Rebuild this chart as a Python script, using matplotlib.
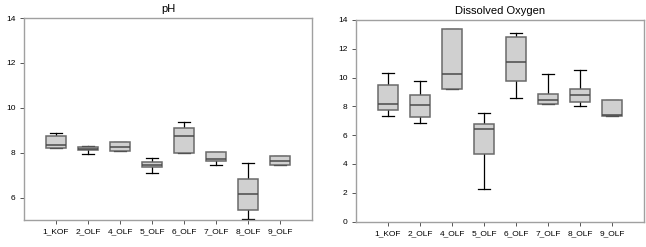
import matplotlib
matplotlib.use('Agg')
import matplotlib.pyplot as plt

plt.rcParams['font.family'] = ['Liberation Sans', 'DejaVu Sans']

# site names on the x axis
sites = ['1_KOF', '2_OLF', '4_OLF', '5_OLF', '6_OLF', '7_OLF', '8_OLF', '9_OLF']

# pH box stats
ph_lo  = [8.19, 7.92, 8.07, 7.10, 7.97, 7.46, 5.05, 7.46]
ph_q1  = [8.19, 8.10, 8.07, 7.37, 7.99, 7.65, 5.46, 7.46]
ph_med = [8.34, 8.16, 8.25, 7.46, 8.74, 7.74, 6.16, 7.65]
ph_q3  = [8.75, 8.26, 8.48, 7.58, 9.08, 8.05, 6.82, 7.87]
ph_hi  = [8.86, 8.29, 8.48, 7.75, 9.35, 8.05, 7.55, 7.87]

# dissolved oxygen box stats
do_lo  = [7.32, 6.81, 9.21, 2.25, 8.61, 8.15, 8.01, 7.36]
do_q1  = [7.73, 7.25, 9.21, 4.70, 9.75, 8.15, 8.29, 7.36]
do_med = [8.17, 8.06, 10.23, 6.46, 11.11, 8.45, 8.77, 7.43]
do_q3  = [9.51, 8.77, 13.40, 6.76, 12.80, 8.89, 9.19, 8.45]
do_hi  = [10.30, 9.75, 13.40, 7.57, 13.12, 10.23, 10.53, 8.45]


def make_stats(lo, q1, med, q3, hi):
    return [dict(whislo=a, q1=b, med=c, q3=d, whishi=e, fliers=[], label=s)
            for a, b, c, d, e, s in zip(lo, q1, med, q3, hi, sites)]


def draw(ax, stats, title, ylim, yticks):
    ax.bxp(stats, positions=range(1, len(sites) + 1), widths=0.64,
           patch_artist=True, showfliers=False,
           boxprops=dict(facecolor='#d0d0d0', edgecolor='#6a6a6a', linewidth=1.1, zorder=3),
           medianprops=dict(color='#4a4a4a', linewidth=1.1, zorder=4),
           whiskerprops=dict(color='black', linewidth=0.9, zorder=2),
           capprops=dict(color='black', linewidth=0.9, zorder=2),
           capwidths=0.36)
    ax.set_xlim(0, 9)
    ax.set_ylim(*ylim)
    ax.set_yticks(yticks)
    ax.set_title(title, fontsize=8, pad=4)
    for sp in ax.spines.values():
        sp.set_color('#a0a0a0')
        sp.set_linewidth(1.0)
    ax.tick_params(labelsize=6, length=3, width=0.7, color='#555555', pad=3)


fig = plt.figure(figsize=(6.46, 2.47), dpi=100)
ax1 = fig.add_axes([24 / 646, 1 - 220 / 247, 288 / 646, 202 / 247])
ax2 = fig.add_axes([356 / 646, 1 - 221.5 / 247, 288 / 646, 201.5 / 247])

draw(ax1, make_stats(ph_lo, ph_q1, ph_med, ph_q3, ph_hi), 'pH', (5, 14), [6, 8, 10, 12, 14])
draw(ax2, make_stats(do_lo, do_q1, do_med, do_q3, do_hi), 'Dissolved Oxygen', (0, 14),
     [0, 2, 4, 6, 8, 10, 12, 14])

fig.savefig('out.png', dpi=100)
